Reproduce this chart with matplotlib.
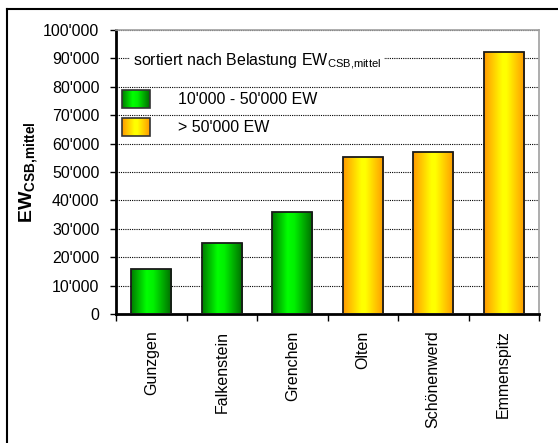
import matplotlib
matplotlib.use("Agg")
import matplotlib.pyplot as plt
import numpy as np
from matplotlib.colors import LinearSegmentedColormap
from matplotlib.patches import Rectangle
from matplotlib.lines import Line2D
from matplotlib.ticker import FuncFormatter

plt.rcParams['font.family'] = ['Liberation Sans', 'DejaVu Sans']
plt.rcParams['mathtext.fontset'] = 'custom'
plt.rcParams['mathtext.rm'] = 'Liberation Sans'
plt.rcParams['mathtext.it'] = 'Liberation Sans'
plt.rcParams['mathtext.bf'] = 'Liberation Sans:bold'

# ---- data ----
categories = ["Gunzgen", "Falkenstein", "Grenchen", "Olten", "Schönenwerd", "Emmenspitz"]
values = [16000, 25000, 36000, 55300, 57000, 92200]
groups = [0, 0, 0, 1, 1, 1]
group_labels = ["10'000 - 50'000 EW", "> 50'000 EW"]
y_ticks = [0, 10000, 20000, 30000, 40000, 50000, 60000, 70000, 80000, 90000, 100000]
title_text = "sortiert nach Belastung EW$_{\\mathrm{CSB{,}mittel}}$"
ylabel_text = "$\\mathbf{EW}_{\\mathbf{CSB{,}mittel}}$"

green_cmap = LinearSegmentedColormap.from_list(
    "g", [(0.0, "#007a00"), (0.38, "#00ff00"), (0.55, "#00f000"), (1.0, "#006a00")])
orange_cmap = LinearSegmentedColormap.from_list(
    "o", [(0.0, "#ff9900"), (0.45, "#ffff00"), (0.55, "#ffff00"), (1.0, "#ff9900")])
cmaps = [green_cmap, orange_cmap]
grad = np.linspace(0, 1, 256).reshape(1, -1)

fig = plt.figure(figsize=(5.58, 4.43), dpi=100)
ax = fig.add_axes([116/558, 1-314/443, (539-116)/558, (314-30)/443])

x = np.arange(len(categories))
bars = ax.bar(x, values, width=0.57, color='none', edgecolor='#1a1a1a', linewidth=1.3, zorder=3)
for b, g in zip(bars, groups):
    x0, y0 = b.get_x(), b.get_y()
    w, h = b.get_width(), b.get_height()
    im = ax.imshow(grad, cmap=cmaps[g], aspect='auto', extent=[x0, x0 + w, y0, y0 + h],
                   zorder=2.5, interpolation='bilinear')
    im.set_clip_path(b)

ax.set_xlim(-0.5, len(categories) - 0.5)
ax.set_ylim(0, 100000)
ax.set_yticks(y_ticks)
ax.yaxis.set_major_formatter(FuncFormatter(lambda v, p: f"{int(v):,}".replace(",", "'")))
ax.yaxis.grid(True, linestyle=(0, (1, 1)), color='black', linewidth=0.8, zorder=1)
ax.set_axisbelow(True)

ax.set_xticks(np.arange(len(categories) + 1) - 0.5)
ax.set_xticklabels([])
ax.set_xticks(x, minor=True)
ax.set_xticklabels(categories, minor=True, rotation=90, fontsize=11.5)
ax.tick_params(axis='x', which='minor', length=0, pad=12)
ax.tick_params(axis='x', which='major', length=5, width=1, direction='out')
ax.tick_params(axis='y', length=4, width=1, direction='out', labelsize=11.5, pad=8)

for s in ['left', 'bottom']:
    ax.spines[s].set_linewidth(2)
    ax.spines[s].set_color('black')
for s in ['top', 'right']:
    ax.spines[s].set_linewidth(1.2)
    ax.spines[s].set_color('#a0a0a0')

ax.set_ylabel(ylabel_text, fontsize=14, labelpad=2)

# annotation and legend
ax.text(0.040, 0.887, title_text, transform=ax.transAxes, fontsize=11.5, va='center', ha='left',
        zorder=4, bbox=dict(facecolor='white', edgecolor='none', pad=2))
leg_boxes = [(0.014, 0.725, 0.066, 0.064), (0.014, 0.627, 0.066, 0.063)]
leg_text_y = [0.757, 0.658]
for (lx, ly, lw, lh), ty, cm, lab in zip(leg_boxes, leg_text_y, cmaps, group_labels):
    r = Rectangle((lx, ly), lw, lh, transform=ax.transAxes, facecolor='none',
                  edgecolor='#333333', linewidth=1.2, zorder=5)
    ax.add_patch(r)
    im = ax.imshow(grad, cmap=cm, aspect='auto', extent=[lx, lx + lw, ly, ly + lh],
                   transform=ax.transAxes, zorder=4.5)
    im.set_clip_path(r)
    ax.text(0.147, ty, lab, transform=ax.transAxes, fontsize=11.5, va='center', ha='left', zorder=5)

ax.set_xlim(-0.5, len(categories) - 0.5)
ax.set_ylim(0, 100000)

# outer frame (left and top lines)
fig.add_artist(Line2D([7/558, 7/558], [0, 1 - 9/443], transform=fig.transFigure, color='black', linewidth=1.5))
fig.add_artist(Line2D([7/558, 1], [1 - 9/443, 1 - 9/443], transform=fig.transFigure, color='black', linewidth=1.5))

fig.savefig("out.png", dpi=100)
